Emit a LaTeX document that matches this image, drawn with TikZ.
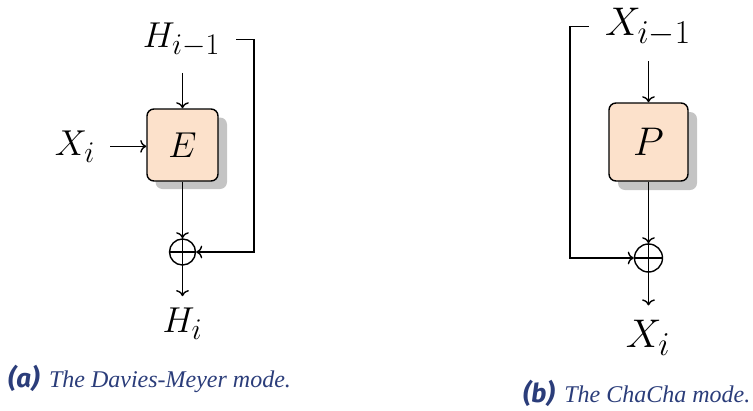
\documentclass[tikz,border=0pt]{standalone}
\usepackage{graphicx}
\usepackage{fontspec}
\setmainfont{Liberation Serif}
\newfontfamily\capsans{Fira Sans}
\usetikzlibrary{calc,arrows.meta}
\definecolor{boxfill}{HTML}{FCE1CB}
\definecolor{shadowgray}{HTML}{C4C4C4}
\definecolor{capblue}{HTML}{2B3D7A}
\newcommand{\bigmA}[1]{\scalebox{1.447}{\Huge$#1$}}
\newcommand{\bigmB}[1]{\scalebox{1.608}{\Huge$#1$}}
\newcommand{\sublbl}[1]{{\capsans\fontsize{26}{28}\selectfont\bfseries\itshape (#1)}}
\tikzset{
  mlbl/.style={inner sep=0pt, anchor=base},
  blockbox/.style={draw=black, line width=1.4pt, fill=boxfill, rounded corners=7pt, inner sep=0pt},
  xorc/.style={draw=black, line width=1.4pt, circle, inner sep=0pt},
  arr/.style={-{To[scale=1.3]}, line width=1.4pt},
  capt/.style={inner sep=0pt, anchor=base west, text=capblue, font=\fontsize{24}{28}\selectfont}
}
\begin{document}
\begin{tikzpicture}[x=1pt,y=-1pt]
\useasboundingbox (0,0) rectangle (753,410);
% ---------- (a) Davies-Meyer ----------
\node[mlbl] (Hm) at (181.5,47) {\bigmA{H_{i-1}}};
\node[mlbl] (Xi) at (75,155) {\bigmA{X_i}};
\node[mlbl] (Hi) at (182.5,332) {\bigmA{H_i}};
\fill[shadowgray, rounded corners=7pt] (155.5,117.5) rectangle (227,189);
\node[blockbox, minimum width=71pt, minimum height=72pt] (E) at (182.5,145) {\bigmA{E}};
\node[xorc, minimum size=26pt] (ox) at (182.5,252) {};
\draw[line width=1.4pt] (ox.north) -- (ox.south) (ox.west) -- (ox.east);
\draw[arr, shorten <=16pt] (Hm.south -| E.north) -- (E.north);
\draw[arr, shorten <=15pt] (Xi.east) -- (Xi.east -| E.west);
\draw[arr] (E.south) -- (ox.north);
\coordinate (fbA) at ($(Hm.east)+(16,0)$);
\coordinate (fbB) at (254,0);
\draw[arr] (fbA) -- (fbA -| fbB) |- (ox.east);
\draw[arr, shorten >=11pt] (ox.south) -- (ox.south |- Hi.north);
\node[capt] (capa) at (8,387) {\sublbl{a}\hspace{0.4em}\itshape The Davies-Meyer mode.};
% ---------- (b) ChaCha ----------
\node[mlbl] (Xm) at (648,35) {\bigmB{X_{i-1}}};
\node[mlbl] (Xo) at (648,347) {\bigmB{X_i}};
\fill[shadowgray, rounded corners=7pt] (618,112) rectangle (697,190);
\node[blockbox, minimum width=79pt, minimum height=78pt] (P) at (648.5,142) {\bigmB{P}};
\node[xorc, minimum size=28pt] (oy) at (648.5,258) {};
\draw[line width=1.4pt] (oy.north) -- (oy.south) (oy.west) -- (oy.east);
\draw[arr, shorten <=15pt] (Xm.south -| P.north) -- (P.north);
\draw[arr] (P.south) -- (oy.north);
\coordinate (fbC) at ($(Xm.west)+(-16,0)$);
\coordinate (fbD) at (570,0);
\draw[arr] (fbC) -- (fbC -| fbD) |- (oy.west);
\draw[arr, shorten >=14pt] (oy.south) -- (oy.south |- Xo.north);
\node[capt] (capb) at (523,402) {\sublbl{b}\hspace{0.4em}\itshape The ChaCha mode.};
\end{tikzpicture}
\end{document}
